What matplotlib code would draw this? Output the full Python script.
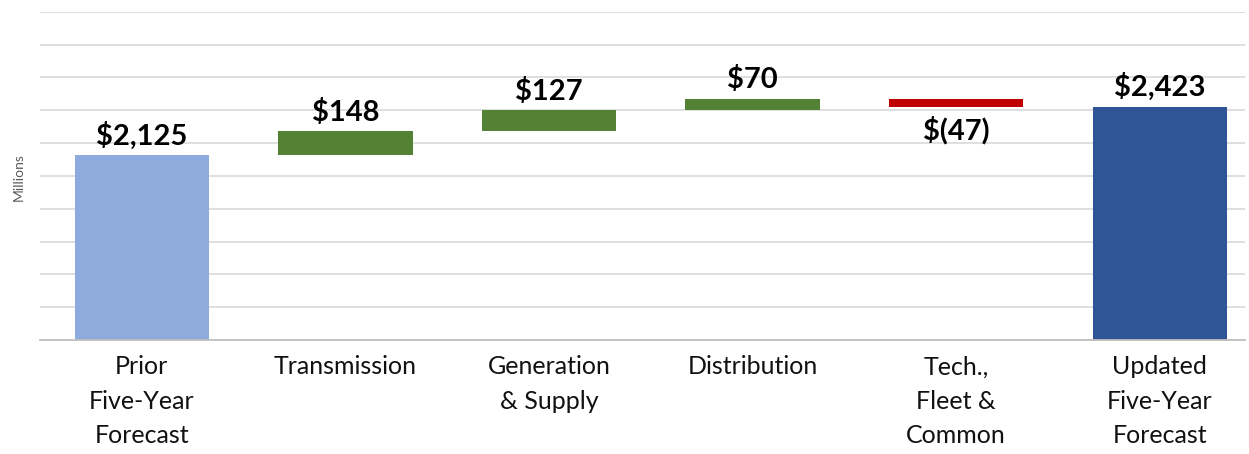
import matplotlib
matplotlib.use("Agg")
import matplotlib.pyplot as plt
import numpy as np

categories = ["Prior\nFive-Year\nForecast", "Transmission", "Generation\n& Supply",
              "Distribution", "Tech.,\nFleet &\nCommon", "Updated\nFive-Year\nForecast"]
values = [2125, 148, 127, 70, -47, 2423]
kinds = ["start", "delta", "delta", "delta", "delta", "total"]
value_labels = ["$2,125", "$148", "$127", "$70", "$(47)", "$2,423"]

colors = {"start": "#8FAADC", "total": "#2F5597", "up": "#548235", "down": "#C00000"}

plt.rcParams['font.family'] = ['Lato', 'DejaVu Sans']

fig = plt.figure(figsize=(12.49, 4.54), dpi=100)
ax = fig.add_axes([0.032, 0.251, 0.965, 0.723])

x = np.arange(len(categories))
running = 0
bottoms, heights, cols = [], [], []
for v, k in zip(values, kinds):
    if k in ("start", "total"):
        bottoms.append(1000)
        heights.append(v - 1000)
        cols.append(colors[k])
        running = v
    else:
        if v >= 0:
            bottoms.append(running)
            heights.append(v)
            cols.append(colors["up"])
        else:
            bottoms.append(running + v)
            heights.append(-v)
            cols.append(colors["down"])
        running += v

ax.bar(x, heights, bottom=bottoms, width=0.66, color=cols, zorder=3)

for i, (v, b, h, lab) in enumerate(zip(values, bottoms, heights, value_labels)):
    if v >= 0:
        ax.annotate(lab, (x[i], b + h), xytext=(0, 4), textcoords="offset points",
                    ha="center", va="bottom", fontsize=21, fontweight="bold", color="black")
    else:
        ax.annotate(lab, (x[i], b), xytext=(0, -7), textcoords="offset points",
                    ha="center", va="top", fontsize=21, fontweight="bold", color="black")

ax.set_ylim(1000, 3000)
ax.set_xlim(-0.5, 5.42)
ax.set_yticks(np.arange(1000, 3001, 200))
ax.set_yticklabels([])
ax.tick_params(axis="y", length=0)
ax.grid(axis="y", color="#D9D9D9", linewidth=1.2, zorder=0)
ax.set_xticks(x)
ax.set_xticklabels(categories, fontsize=18, color="#111111", linespacing=1.6)
ax.tick_params(axis="x", length=0, pad=11)
for s in ["top", "right", "left"]:
    ax.spines[s].set_visible(False)
ax.spines["bottom"].set_color("#BFBFBF")
ax.spines["bottom"].set_linewidth(1.3)
ax.spines["bottom"].set_zorder(4)

fig.text(0.015, 0.61, "Millions", rotation=90, fontsize=10, color="#595959",
         ha="center", va="center")

fig.savefig("out.png", dpi=100)
